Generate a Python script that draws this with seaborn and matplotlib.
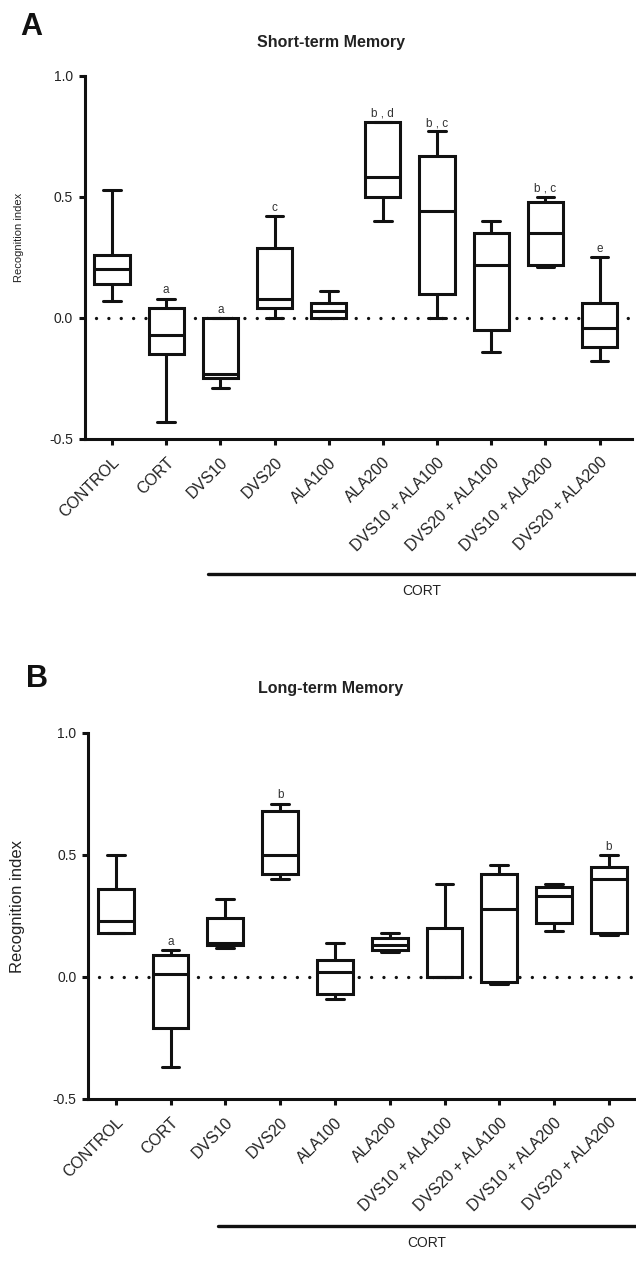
import numpy as np
import pandas as pd
import seaborn as sns
import matplotlib.pyplot as plt
from matplotlib.lines import Line2D

groups = ['CONTROL', 'CORT', 'DVS10', 'DVS20', 'ALA100', 'ALA200',
          'DVS10 + ALA100', 'DVS20 + ALA100', 'DVS10 + ALA200', 'DVS20 + ALA200']

# short-term memory: five-number summaries
short_min = [0.07, -0.43, -0.29, 0.00, 0.00, 0.40, 0.00, -0.14, 0.21, -0.18]
short_q1 = [0.14, -0.15, -0.25, 0.04, 0.00, 0.50, 0.10, -0.05, 0.22, -0.12]
short_med = [0.20, -0.07, -0.23, 0.08, 0.03, 0.58, 0.44, 0.22, 0.35, -0.04]
short_q3 = [0.26, 0.04, 0.00, 0.29, 0.06, 0.81, 0.67, 0.35, 0.48, 0.06]
short_max = [0.53, 0.08, 0.00, 0.42, 0.11, 0.81, 0.77, 0.40, 0.50, 0.25]
short_marks = ['', 'a', 'a', 'c', '', 'b , d', 'b , c', '', 'b , c', 'e']

# long-term memory
long_min = [0.18, -0.37, 0.12, 0.40, -0.09, 0.10, 0.00, -0.03, 0.19, 0.17]
long_q1 = [0.18, -0.21, 0.13, 0.42, -0.07, 0.11, 0.00, -0.02, 0.22, 0.18]
long_med = [0.23, 0.01, 0.14, 0.50, 0.02, 0.13, 0.00, 0.28, 0.33, 0.40]
long_q3 = [0.36, 0.09, 0.24, 0.68, 0.07, 0.16, 0.20, 0.42, 0.37, 0.45]
long_max = [0.50, 0.11, 0.32, 0.71, 0.14, 0.18, 0.38, 0.46, 0.38, 0.50]
long_marks = ['', 'a', '', 'b', '', '', '', '', '', 'b']

yticks = [-0.5, 0.0, 0.5, 1.0]
ytick_labels = ['-0.5', '0.0', '0.5', '1.0']

sns.set_style('ticks')
plt.rcParams['font.family'] = ['Liberation Sans', 'DejaVu Sans']
plt.rcParams['axes.unicode_minus'] = False

INK = '#111111'
TXT = '#222222'


def make_frame(lo, q1, med, q3, hi):
    # 5 values per group: percentiles 0/25/50/75/100 land exactly on them
    rows = []
    for i, g in enumerate(groups):
        for v in (lo[i], q1[i], med[i], q3[i], hi[i]):
            rows.append({'group': g, 'value': v})
    return pd.DataFrame(rows)


def draw_panel(ax, df, tops, marks, right, ylabel_size, ylabel_pos):
    ax.axhline(0, xmin=0.02, xmax=1, color=INK, lw=2.4,
               linestyle=(0, (0.01, 3.7)), dash_capstyle='round', zorder=1)
    sns.boxplot(data=df, x='group', y='value', order=groups, whis=(0, 100),
                width=0.65, color='white', linecolor=INK, linewidth=2.2,
                saturation=1, ax=ax)
    for i, m in enumerate(marks):
        if m:
            ax.annotate(m, (i, tops[i]), xytext=(0, 1.5), textcoords='offset points',
                        ha='center', va='bottom', fontsize=8.5, color='#333333')
    ax.set_xlim(-0.5, right)
    ax.set_ylim(-0.5, 1.0)
    ax.set_yticks(yticks)
    ax.set_yticklabels(ytick_labels)
    ax.set_xlabel('')
    ax.set_ylabel('Recognition index', fontsize=ylabel_size, color=TXT)
    ax.yaxis.set_label_coords(*ylabel_pos)
    sns.despine(ax=ax)
    for s in ('left', 'bottom'):
        ax.spines[s].set_linewidth(2.2)
        ax.spines[s].set_color(INK)
    ax.tick_params(axis='both', length=4.5, width=2.2, color=INK, labelcolor=TXT)
    ax.tick_params(axis='y', labelsize=10, pad=4)
    ax.tick_params(axis='x', labelsize=11.5, pad=7)
    plt.setp(ax.get_xticklabels(), rotation=45, ha='right', rotation_mode='anchor')


W, H = 636, 1264
fig = plt.figure(figsize=(W / 100, H / 100), dpi=100)

ax_a = fig.add_axes([85 / W, 1 - 439 / H, 547 / W, 363.3 / H])
ax_b = fig.add_axes([88.3 / W, 1 - 1099 / H, 548 / W, 366.3 / H])

draw_panel(ax_a, make_frame(short_min, short_q1, short_med, short_q3, short_max),
           short_max, short_marks, 9.6, 8, (-0.112, 0.556))
draw_panel(ax_b, make_frame(long_min, long_q1, long_med, long_q3, long_max),
           long_max, long_marks, 9.5, 12, (-0.116, 0.525))

# panel letters and titles
fig.text(20 / W, 1 - 12 / H, 'A', fontsize=22, fontweight='bold', color=INK, va='top')
fig.text(26 / W, 1 - 664 / H, 'B', fontsize=22, fontweight='bold', color=INK, va='top')
fig.text(331 / W, 1 - 42 / H, 'Short-term Memory', fontsize=11.5, fontweight='bold',
         color=TXT, ha='center', va='center')
fig.text(331 / W, 1 - 688 / H, 'Long-term Memory', fontsize=11.5, fontweight='bold',
         color=TXT, ha='center', va='center')

# CORT brackets under the treated groups
for y_line, y_txt, x0 in ((574, 591, 208), (1226, 1243, 218)):
    fig.add_artist(Line2D([x0 / W, 1.0], [1 - y_line / H, 1 - y_line / H],
                          transform=fig.transFigure, color=INK, lw=2.4))
    fig.text((x0 + W) / 2 / W, 1 - y_txt / H, 'CORT', fontsize=10, color=TXT,
             ha='center', va='center')

fig.savefig('out.png', dpi=100)
